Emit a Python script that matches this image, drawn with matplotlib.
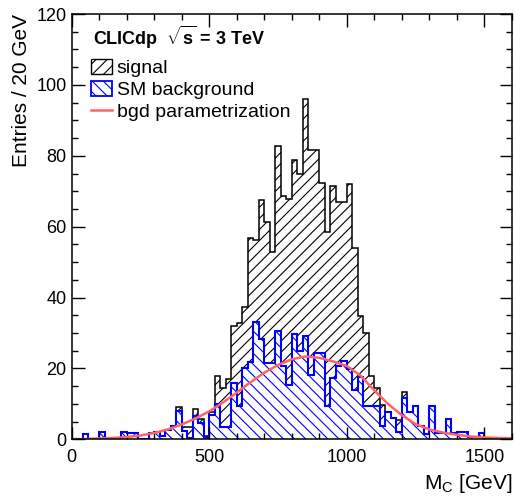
import matplotlib
matplotlib.use('Agg')
import matplotlib.pyplot as plt
from matplotlib.patches import Patch
from matplotlib.lines import Line2D
from matplotlib.ticker import MultipleLocator
import numpy as np

plt.rcParams['font.family'] = ['Liberation Sans', 'DejaVu Sans']
plt.rcParams['mathtext.fontset'] = 'custom'
plt.rcParams['mathtext.rm'] = 'Liberation Sans'
plt.rcParams['mathtext.bf'] = 'Liberation Sans:bold'
plt.rcParams['hatch.linewidth'] = 0.8

# 20 GeV bins from 0 to 1600 GeV
bin_edges = np.arange(0, 1620, 20)

# SM background entries per bin
background = [0, 0, 1.5, 0, 0, 2.0, 0, 0, 0, 2.0,
              1.7, 1.7, 0, 0, 1.7, 2.0, 1.0, 2.7, 3.8, 8.0,
              2.5, 0.5, 6.5, 4.5, 0.5, 7.0, 10.0, 3.6, 3.6, 16.0,
              9.4, 20.2, 21.9, 33.2, 28.3, 21.5, 21.5, 30.7, 20.7, 15.4,
              29.7, 24.9, 29.2, 18.2, 24.5, 24.5, 9.5, 17.3, 20.7, 22.1,
              19.8, 13.9, 17.7, 9.5, 9.3, 9.3, 3.8, 7.8, 6.0, 2.2,
              11.6, 7.8, 9.4, 3.8, 1.5, 9.4, 1.7, 1.7, 5.7, 1.7,
              2.0, 2.0, 0.8, 0.8, 1.7, 0, 0, 0, 0, 0]

# signal entries per bin (stacked on top of background)
signal = [0, 0, 0, 0, 0, 0, 0, 0, 0, 0,
          0, 0, 0, 0, 0, 0, 0, 0, 0, 1.0,
          1.1, 3.0, 2.0, 1.2, 0.5, 0.6, 8.0, 11.0, 13.5, 16.0,
          23.3, 17.1, 35.0, 23.1, 39.1, 39.7, 31.5, 52.1, 47.9, 52.3,
          49.1, 50.0, 66.9, 63.3, 57.0, 47.7, 49.1, 54.2, 46.3, 44.9,
          52.2, 40.0, 17.2, 20.4, 8.6, 5.3, 5.9, 0, 0, 3.3,
          1.9, 0, 0, 0, 0, 0, 0, 0, 0, 0,
          0, 0, 0, 0, 0, 0, 0, 0, 0, 0]

# background parametrization
param_mass = [0, 50, 100, 150, 200, 250, 300, 350, 400, 450,
              500, 550, 600, 650, 700, 750, 800, 850, 900, 950,
              1000, 1050, 1100, 1150, 1200, 1250, 1300, 1350, 1400, 1450,
              1500, 1550, 1600]
param_value = [0.05, 0.1, 0.25, 0.4, 0.65, 1.1, 1.8, 2.8, 4.2, 5.9,
               7.9, 10.4, 13.2, 16.1, 18.8, 21.0, 22.6, 23.4, 23.0, 22.0,
               20.7, 18.0, 13.8, 10.0, 6.8, 4.3, 2.8, 1.9, 1.3, 0.8,
               0.55, 0.4, 0.3]

total = np.array(background) + np.array(signal)

fig = plt.figure(figsize=(5.15, 5.01), dpi=100)
ax = fig.add_axes([0.139, 0.123, 0.855, 0.849])

ax.stairs(total, bin_edges, fill=True, facecolor='white', edgecolor='black',
          hatch='///', linewidth=1.1)
ax.stairs(background, bin_edges, fill=True, facecolor='white', edgecolor='blue',
          hatch='\\\\\\', linewidth=1.5)
ax.plot(param_mass, param_value, color='#ff6464', linewidth=1.8)

ax.set_xlim(0, 1600)
ax.set_ylim(0, 120)
ax.set_xticks([0, 500, 1000, 1500])
ax.xaxis.set_minor_locator(MultipleLocator(100))
ax.yaxis.set_major_locator(MultipleLocator(20))
ax.yaxis.set_minor_locator(MultipleLocator(5))
ax.tick_params(which='both', direction='in', top=True, right=True, width=1.0, labelsize=13)
ax.tick_params(which='major', length=9)
ax.tick_params(which='minor', length=4.5)
ax.tick_params(axis='x', pad=7)
for s in ax.spines.values():
    s.set_linewidth(1.1)

ax.set_xlabel(r'M$_{\rm C}$ [GeV]', fontsize=15, loc='right', labelpad=4)
ax.set_ylabel('Entries / 20 GeV', fontsize=15, loc='top', labelpad=4)

ax.text(0.049, 0.946, r'CLICdp  $\mathbf{\sqrt{s}}$ = 3 TeV', transform=ax.transAxes,
        fontsize=13, fontweight='bold', va='center', ha='left')

handles = [Patch(facecolor='white', edgecolor='black', hatch='///', linewidth=1.0),
           Patch(facecolor='white', edgecolor='blue', hatch='\\\\\\', linewidth=1.3),
           Line2D([], [], color='#ff6464', linewidth=1.8)]
ax.legend(handles, ['signal', 'SM background', 'bgd parametrization'],
          loc='upper left', bbox_to_anchor=(0.045, 0.895), frameon=False,
          fontsize=14, handlelength=1.05, handleheight=0.8, handletextpad=0.25,
          labelspacing=0.2, borderaxespad=0, borderpad=0)

fig.savefig('out.png', dpi=100)
